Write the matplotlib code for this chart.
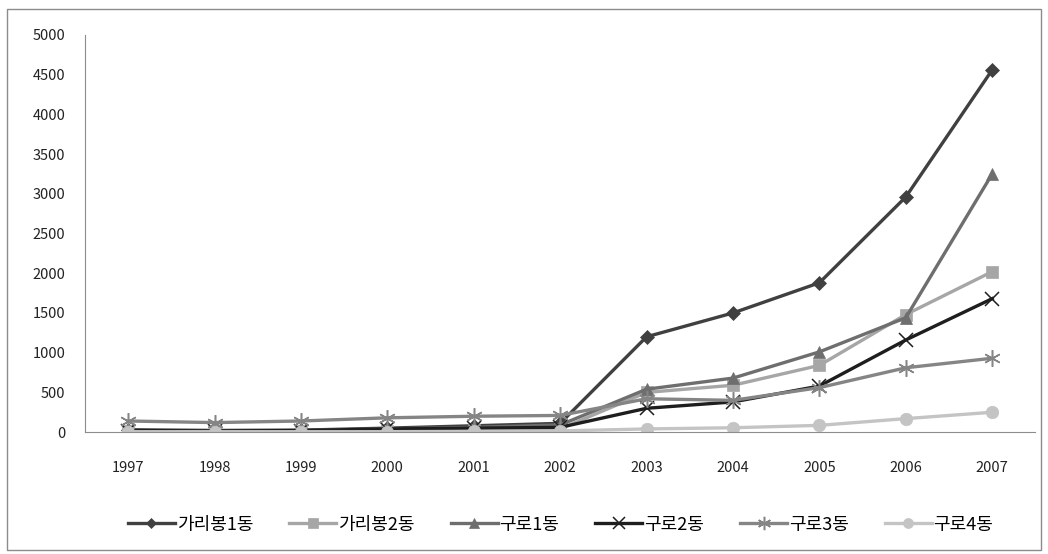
import matplotlib.pyplot as plt
from matplotlib.patches import Rectangle
import numpy as np

plt.rcParams['font.family'] = ['Noto Sans CJK KR', 'DejaVu Sans']

years = ['1997', '1998', '1999', '2000', '2001', '2002',
         '2003', '2004', '2005', '2006', '2007']

garibong1 = [30, 20, 25, 50, 80, 110, 1200, 1500, 1880, 2960, 4560]
garibong2 = [10, 10, 10, 20, 30, 40, 500, 590, 840, 1480, 2020]
guro1 = [20, 20, 20, 40, 60, 90, 540, 680, 1010, 1440, 3250]
guro2 = [20, 15, 20, 40, 50, 60, 300, 380, 580, 1160, 1680]
guro3 = [140, 120, 140, 180, 200, 210, 420, 400, 560, 810, 930]
guro4 = [5, 5, 5, 5, 10, 15, 40, 55, 85, 170, 250]

series = [
    ('가리봉1동', garibong1, '#404040', 'D', 7),
    ('가리봉2동', garibong2, '#a6a6a6', 's', 9),
    ('구로1동', guro1, '#6e6e6e', '^', 9),
    ('구로2동', guro2, '#1e1e1e', 'x', 10),
    ('구로3동', guro3, '#858585', (6, 2, 0), 12),
    ('구로4동', guro4, '#c4c4c4', 'o', 9),
]

fig = plt.figure(figsize=(10.48, 5.54), dpi=100)
ax = fig.add_axes([0.081, 0.22, 0.907, 0.717])

x = np.arange(len(years))
for name, vals, col, mk, ms in series:
    ax.plot(x, vals, color=col, lw=2.4, marker=mk, markersize=ms,
            markeredgewidth=1.1 if mk in ('x', (6, 2, 0)) else 0.5,
            markeredgecolor=col, label=name)

ax.set_xlim(-0.5, len(years) - 0.5)
ax.set_ylim(0, 5000)
ax.set_yticks(np.arange(0, 5001, 500))
ax.set_xticks(x)
ax.set_xticklabels(years)
ax.tick_params(axis='both', length=0, labelsize=10.5, colors='#222222')
ax.tick_params(axis='x', pad=21)
ax.tick_params(axis='y', pad=14)

for s in ['top', 'right']:
    ax.spines[s].set_visible(False)
ax.spines['left'].set_color('#8c8c8c')
ax.spines['bottom'].set_color('#8c8c8c')

ax.legend(loc='center', bbox_to_anchor=(0.535, 0.053), bbox_transform=fig.transFigure,
          ncol=6, frameon=False, fontsize=13, handlelength=2.6, markerscale=0.8,
          handletextpad=0.1, columnspacing=2.0)

# outer chart border
fig.patches.append(Rectangle((0.007, 0.008), 0.986, 0.975, transform=fig.transFigure,
                             fill=False, edgecolor='#8c8c8c', lw=1.0))

fig.savefig('out.png', dpi=100)
